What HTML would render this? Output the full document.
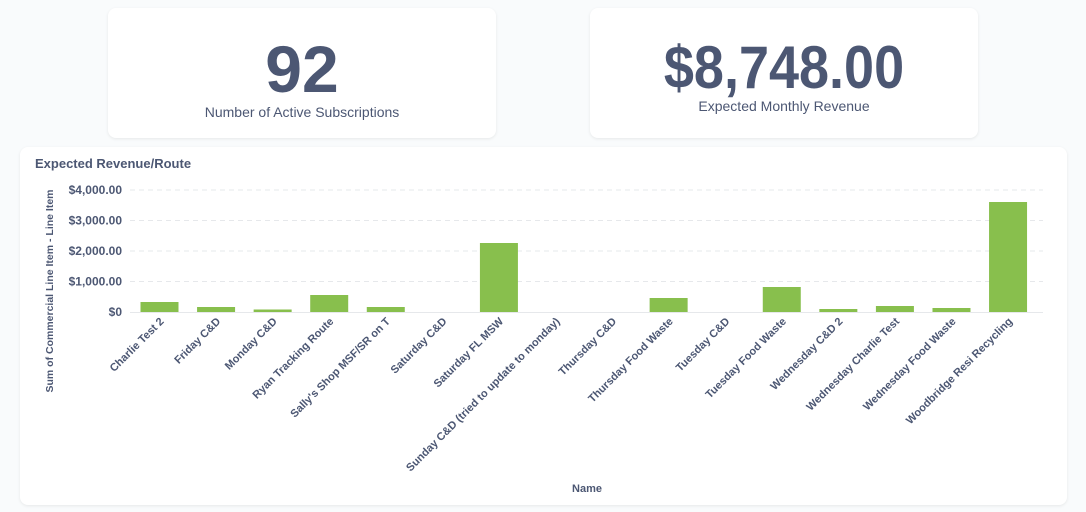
<!DOCTYPE html>
<html><head><meta charset="utf-8"><style>
html,body{margin:0;padding:0;width:1086px;height:512px;background:#f9fbfc;overflow:hidden;font-family:"Liberation Sans",sans-serif;}
.card{position:absolute;background:#fff;border-radius:8px;box-shadow:0 1px 3px rgba(0,0,0,0.08);}
.big{position:absolute;left:0;right:0;text-align:center;color:#4c5773;font-weight:bold;font-size:66px;line-height:1;}
.sub{position:absolute;left:0;right:0;text-align:center;color:#4c5773;font-size:14px;}
</style></head><body>
<div class="card" style="left:108px;top:8px;width:388px;height:130px;">
 <div class="big" style="top:28px;">92</div>
 <div class="sub" style="top:96px;">Number of Active Subscriptions</div>
</div>
<div class="card" style="left:590px;top:8px;width:388px;height:130px;">
 <div class="big" style="top:30px;font-size:60px;transform:scaleX(0.9);">$8,748.00</div>
 <div class="sub" style="top:90px;">Expected Monthly Revenue</div>
</div>
<div class="card" style="left:20px;top:147px;width:1047px;height:358px;"></div>
<svg width="1086" height="512" style="position:absolute;left:0;top:0" font-family="Liberation Sans, sans-serif">
<text x="35" y="168" font-size="13" font-weight="bold" fill="#4c5773">Expected Revenue/Route</text>
<g stroke="#e6e8eb" stroke-dasharray="5,4">
<line x1="130" x2="1043" y1="190" y2="190"/><line x1="130" x2="1043" y1="220.5" y2="220.5"/><line x1="130" x2="1043" y1="251" y2="251"/><line x1="130" x2="1043" y1="281.5" y2="281.5"/>
</g>
<line x1="130" x2="1043" y1="312.5" y2="312.5" stroke="#e6e8eb"/>
<g font-size="12" fill="#4c5773" text-anchor="end" font-weight="bold">
<text x="122" y="194">$4,000.00</text><text x="122" y="224.5">$3,000.00</text><text x="122" y="255">$2,000.00</text><text x="122" y="285.5">$1,000.00</text><text x="122" y="316">$0</text>
</g>
<text transform="translate(53,291) rotate(-90)" text-anchor="middle" font-size="10.5" font-weight="bold" fill="#4c5773">Sum of Commercial Line Item - Line Item</text>
<text x="587" y="492" text-anchor="middle" font-size="11" font-weight="bold" fill="#4c5773">Name</text>
<g fill="#88bf4d" id="bars"></g>
<g id="labels" font-size="11" font-weight="bold" fill="#4c5773" text-anchor="end"></g>
</svg>
<script>
var names=["Charlie Test 2","Friday C&D","Monday C&D","Ryan Tracking Route","Sally's Shop MSF/SR on T","Saturday C&D","Saturday FL MSW","Sunday C&D (tried to update to monday)","Thursday C&D","Thursday Food Waste","Tuesday C&D","Tuesday Food Waste","Wednesday C&D 2","Wednesday Charlie Test","Wednesday Food Waste","Woodbridge Resi Recycling"];
var tops=[302,307,309.5,295,307,312,243,312,312,298,312,287,309,306,308,202];
var b=document.getElementById('bars'),l=document.getElementById('labels'),ns='http://www.w3.org/2000/svg';
for(var i=0;i<16;i++){var cx=159.5+i*56.57;
if(tops[i]<312){var r=document.createElementNS(ns,'rect');r.setAttribute('x',cx-19);r.setAttribute('width',38);r.setAttribute('y',tops[i]);r.setAttribute('height',312-tops[i]);b.appendChild(r);}
var t=document.createElementNS(ns,'text');t.setAttribute('transform','translate('+(cx+5)+',322) rotate(-45)');t.textContent=names[i];l.appendChild(t);}
</script>
</body></html>
